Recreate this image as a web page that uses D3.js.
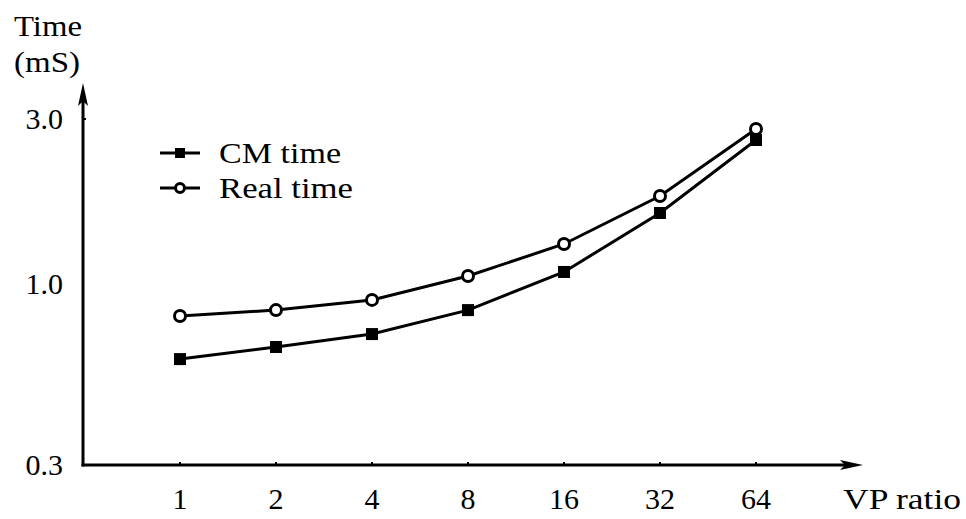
<!DOCTYPE html>
<html>
<head>
<meta charset="utf-8">
<script src="https://cdn.jsdelivr.net/npm/d3@7"></script>
<style>
  body { margin: 0; background: #fff; }
  text { font-family: "Liberation Serif", "Times New Roman", serif; fill: #000; }
</style>
</head>
<body>
<svg id="chart" width="966" height="519"></svg>
<script>
var ratios = [1, 2, 4, 8, 16, 32, 64];
var cmTime = [0.607, 0.658, 0.717, 0.841, 1.084, 1.605, 2.609];
var realTime = [0.809, 0.841, 0.900, 1.055, 1.306, 1.797, 2.807];
var yTicks = [0.3, 1.0, 3.0];

var svg = d3.select("#chart");
var FS = 30;

var x = d3.scalePoint().domain(ratios).range([180, 756]);
var y = d3.scaleLog().domain([0.3, 3.0]).range([465, 119]);

var X0 = 83, Y0 = 465;

// labels in the reference are set wider than Times, stretch them a bit
function label(tx, ty, str, len, anchor) {
  var t = svg.append("text").attr("x", tx).attr("y", ty)
    .style("font-size", FS + "px").text(str)
  if (anchor) t.attr("text-anchor", anchor)
  if (len) t.attr("textLength", len).attr("lengthAdjust", "spacingAndGlyphs")
  return t
}

// axes with arrowheads
svg.append("line")
  .attr("x1", X0).attr("y1", Y0 + 1.5)
  .attr("x2", X0).attr("y2", 100)
  .style("stroke", "#000").style("stroke-width", 3)
svg.append("path")
  .attr("d", "M" + X0 + ",83 L" + (X0 - 5) + ",106 L" + X0 + ",101 L" + (X0 + 5) + ",106 Z")
  .style("fill", "#000")

svg.append("line")
  .attr("x1", X0 - 1.5).attr("y1", Y0)
  .attr("x2", 846).attr("y2", Y0)
  .style("stroke", "#000").style("stroke-width", 3)
svg.append("path")
  .attr("d", "M863," + Y0 + " L840," + (Y0 - 5) + " L845," + Y0 + " L840," + (Y0 + 5) + " Z")
  .style("fill", "#000")

// x ticks + labels
svg.selectAll(".xtick").data(ratios).enter().append("line")
  .attr("x1", d => x(d)).attr("x2", d => x(d))
  .attr("y1", Y0 - 3).attr("y2", Y0)
  .style("stroke", "#000").style("stroke-width", 2)

svg.selectAll(".xlab").data(ratios).enter().append("text")
  .attr("x", d => x(d)).attr("y", 509)
  .attr("text-anchor", "middle")
  .style("font-size", FS + "px")
  .text(d => d)

label(843, 509, "VP ratio", 118)

// y tick labels
svg.selectAll(".ylab").data(yTicks).enter().append("text")
  .attr("x", 63).attr("y", d => y(d) + 10)
  .attr("text-anchor", "end")
  .style("font-size", FS + "px")
  .text(d => d.toFixed(1))

svg.append("line")
  .attr("x1", X0).attr("x2", X0 + 3)
  .attr("y1", y(3.0)).attr("y2", y(3.0))
  .style("stroke", "#000").style("stroke-width", 2)

label(14, 36, "Time", 68)
label(14, 72, "(mS)", 66)

// series
var line = d3.line().x((d, i) => x(ratios[i])).y(d => y(d));

svg.append("path").datum(realTime).attr("d", line)
  .style("fill", "none").style("stroke", "#000").style("stroke-width", 3)
svg.append("path").datum(cmTime).attr("d", line)
  .style("fill", "none").style("stroke", "#000").style("stroke-width", 3)

svg.selectAll(".sq").data(cmTime).enter().append("rect")
  .attr("x", (d, i) => x(ratios[i]) - 6)
  .attr("y", d => y(d) - 6)
  .attr("width", 12).attr("height", 12)
  .style("fill", "#000")

svg.selectAll(".ci").data(realTime).enter().append("circle")
  .attr("cx", (d, i) => x(ratios[i]))
  .attr("cy", d => y(d))
  .attr("r", 5.5)
  .style("fill", "#fff").style("stroke", "#000").style("stroke-width", 3)

// legend
var legend = [
  {name: "CM time", y: 153, mark: "sq", len: 122},
  {name: "Real time", y: 188, mark: "ci", len: 134}
];
legend.forEach(function(l) {
  svg.append("line")
    .attr("x1", 160).attr("x2", 200)
    .attr("y1", l.y).attr("y2", l.y)
    .style("stroke", "#000").style("stroke-width", 3)
  if (l.mark == "sq") {
    svg.append("rect").attr("x", 175).attr("y", l.y - 5)
      .attr("width", 10).attr("height", 10).style("fill", "#000")
  } else {
    svg.append("circle").attr("cx", 180).attr("cy", l.y).attr("r", 4.5)
      .style("fill", "#fff").style("stroke", "#000").style("stroke-width", 3)
  }
  label(219, l.y + 10, l.name, l.len)
});
</script>
</body>
</html>
